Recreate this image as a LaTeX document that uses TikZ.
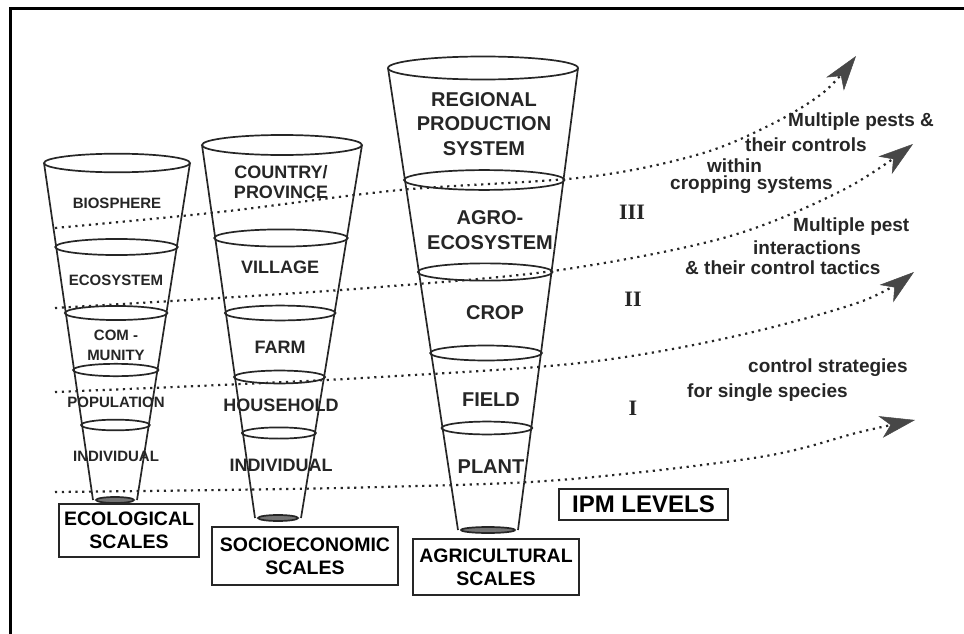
\documentclass[tikz,border=0pt]{standalone}
\usepackage{fontspec}
\setmainfont{Liberation Sans}
\newfontfamily\romanbf{Liberation Serif}
\usepackage{tikz}
\usetikzlibrary{arrows.meta, positioning}

% funnel: rim centre x, rim y, rim half width, base centre x, base y, base half width, ring heights
\newcommand{\funnel}[7]{%
  \draw[Wall] (#1-#3,#2) -- (#4-#6,#5) (#1+#3,#2) -- (#4+#6,#5);
  \draw[Wall] (#1,#2) ellipse [x radius=#3, y radius=0.1*#3+2];
  \foreach \ringy in {#7}{%
    \pgfmathsetmacro{\ringt}{(\ringy-#2)/(#5-#2)}
    \pgfmathsetmacro{\ringx}{#1+(#4-#1)*\ringt}
    \pgfmathsetmacro{\ringw}{#3+(#6-#3)*\ringt}
    \draw[Wall] (\ringx,\ringy) ellipse [x radius=\ringw+1, y radius=0.1*\ringw+2];
  }
  \draw[Wall, fill=black!55] (#4,#5) ellipse [x radius=#6-3, y radius=3];
}

\begin{document}
\begin{tikzpicture}
  [
    x=1pt, y=-1pt,
    Wall/.style={draw=black!85, line width=1.7pt},
    Eco/.style={font=\bfseries\fontsize{15}{20}\selectfont, text=black!85, align=center, inner sep=0},
    Soc/.style={font=\bfseries\fontsize{18}{20}\selectfont, text=black!85, align=center, inner sep=0},
    Agr/.style={font=\bfseries\fontsize{20}{24.5}\selectfont, text=black!85, align=center, inner sep=0},
    Scale/.style={draw=black!85, line width=1.7pt, font=\bfseries\fontsize{19.5}{23}\selectfont, align=center, inner sep=0},
    Note/.style={font=\bfseries\fontsize{19}{22}\selectfont, text=black!85, anchor=west, inner sep=0},
    Level/.style={font=\romanbf\bfseries\fontsize{22}{22}\selectfont, text=black!85, inner sep=0},
    Dots/.style={draw=black!85, line width=2.2pt, dash pattern=on 2.2pt off 4.6pt,
      -{Stealth[length=35pt, width=22pt, inset=10pt, color=black!72, fill=black!72, line width=0.5pt]}}
  ]
  \useasboundingbox (0,0) rectangle (964,634);
  \fill[white] (0,0) rectangle (964,634);
  % frame
  \draw[line width=3.2pt, black] (10.8,634) -- (10.8,8.3) -- (964,8.3);

  % Funnels
  \funnel{117}{163}{73}{115}{500}{22}{247,313,370,425}
  \funnel{282}{145}{80}{278}{518}{23}{238,313,377,433}
  \funnel{483}{68}{95}{488}{530}{30}{180,272,353,428}

  % Nodes
  \node[Eco] (bio) at (117,203) {BIOSPHERE};
  \node[Eco] (eco) at (116,280) {ECOSYSTEM};
  \node[Eco] (com) at (116,345) {COM -\\MUNITY};
  \node[Eco] (pop) at (116,402) {POPULATION};
  \node[Eco] (indA) at (116,456) {INDIVIDUAL};

  \node[Soc] (country) at (281,182) {COUNTRY/\\PROVINCE};
  \node[Soc] (village) at (280,267) {VILLAGE};
  \node[Soc] (farm) at (280,347) {FARM};
  \node[Soc] (house) at (281,405) {HOUSEHOLD};
  \node[Soc] (indB) at (281,465) {INDIVIDUAL};

  \node[Agr] (region) at (484,124) {REGIONAL\\PRODUCTION\\SYSTEM};
  \node[Agr] (agro) at (490,230) {AGRO-\\ECOSYSTEM};
  \node[Agr] (crop) at (495,313) {CROP};
  \node[Agr] (field) at (491,400) {FIELD};
  \node[Agr] (plant) at (491,467) {PLANT};

  \node[Scale, minimum width=140, minimum height=53] (ecoscale) at (129,530.5) {ECOLOGICAL\\SCALES};
  \node[Scale, minimum width=186, minimum height=58] (socscale) at (305,556) {SOCIOECONOMIC\\SCALES};
  \node[Scale, minimum width=166, minimum height=56] (agrscale) at (496,567) {AGRICULTURAL\\SCALES};
  \node[Scale, minimum width=169, minimum height=31, font=\bfseries\fontsize{24}{24}\selectfont] (ipm) at (643.5,504.5) {IPM LEVELS};

  \node[Level] (lvlIII) at (632,212) {III};
  \node[Level] (lvlII) at (633,299) {II};
  \node[Level] (lvlI) at (633,408) {I};

  \node[Note] (n1) at (788,122) {Multiple pests \&};
  \node[Note] (n2) at (745,145) {their controls};
  \node[Note] (n3) at (707,166) {within};
  \node[Note] (n4) at (670,185) {cropping systems};
  \node[Note] (n5) at (793,227) {Multiple pest};
  \node[Note] (n6) at (753,248) {interactions};
  \node[Note] (n7) at (685,268) {\& their control tactics};
  \node[Note] (n8) at (748,368) {control strategies};
  \node[Note] (n9) at (687,393) {for single species};

  % Lines
  \coordinate (a0) at (55,228);  \coordinate (a1) at (856,56);
  \coordinate (b0) at (55,308);  \coordinate (b1) at (913,144);
  \coordinate (c0) at (55,392);  \coordinate (c1) at (914,272);
  \coordinate (d0) at (55,492);  \coordinate (d1) at (915,420);
  \path[Dots] plot[smooth, tension=0.55] coordinates {(a0) (220,212) (400,190) (587,177) (700,154) (772,124) (824,92) (a1)};
  \path[Dots] plot[smooth, tension=0.55] coordinates {(b0) (220,298) (380,287) (560,270) (727,237) (843,190) (b1)};
  \path[Dots] plot[smooth, tension=0.55] coordinates {(c0) (220,385) (380,377) (580,363) (727,338) (860,302) (c1)};
  \path[Dots] plot[smooth, tension=0.55] coordinates {(d0) (220,490) (380,487) (560,480) (760,457) (860,432) (d1)};
\end{tikzpicture}
\end{document}
